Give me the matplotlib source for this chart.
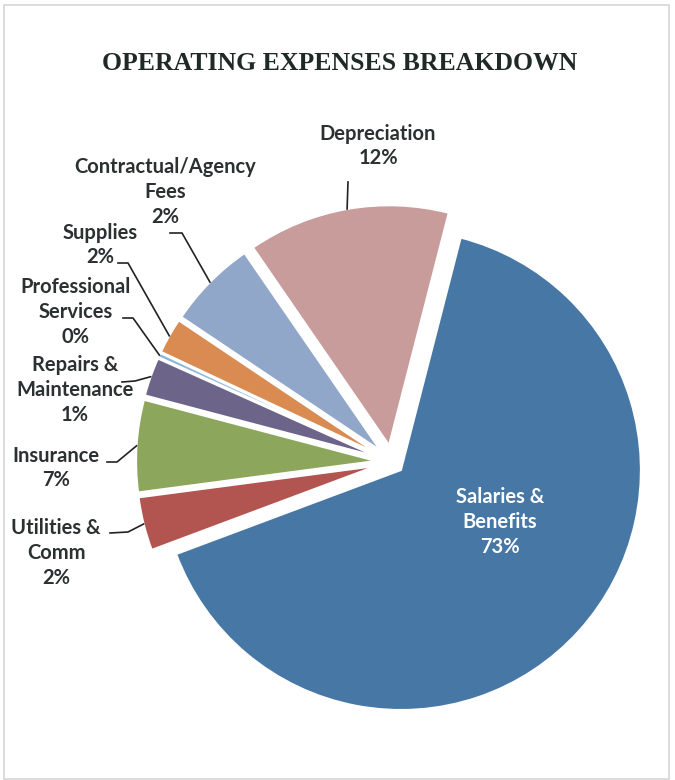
import numpy as np
import matplotlib.pyplot as plt
from matplotlib.patches import Rectangle

W, H = 675, 780

# datos (tamaño visual de cada sector, en %)
categorias = ['Salaries &\nBenefits', 'Depreciation', 'Contractual/Agency\nFees', 'Supplies',
              'Professional\nServices', 'Repairs &\nMaintenance', 'Insurance', 'Utilities &\nComm']
valores = [65.3, 13.6, 6.0, 2.4, 0.3, 2.6, 6.2, 3.6]
etiquetas_pct = ['73%', '12%', '2%', '2%', '0%', '1%', '7%', '2%']

colores = ['#4777a5', '#c99c9c', '#91a7c9', '#d98b52', '#8fb6da', '#6c6589', '#8ca65c', '#b2544f']
# separacion de cada sector (en pixeles, pie usa unidades de datos)
explode = [12, 17, 16, 16, 16, 16, 16, 16]

# posiciones del texto (coordenadas de imagen, y hacia abajo)
pos_texto = [(500, 522), (378, 146), (165, 192), (100, 245), (76, 312), (75, 390), (56, 468), (56, 553)]
# tramo inicial de cada linea guia (inicio, codo)
guias = [None, [(348, 182), (348, 182)], [(170, 233), (182, 233)], [(118, 263), (128, 263)],
         [(123, 318), (133, 318)], [(122, 382), (135, 381)], [(107, 462), (117, 462)],
         [(110, 533), (128, 532)]]

def yy(y):
    return H - y

fig = plt.figure(figsize=(W / 100, H / 100), dpi=100)
ax = fig.add_axes([0, 0, 1, 1])

wedges, _ = ax.pie(valores, colors=colores, explode=explode, startangle=200.5,
                   counterclock=True, radius=240, center=(392, yy(462)),
                   wedgeprops=dict(edgecolor='white', linewidth=1.5))

ax.set_xlim(0, W)
ax.set_ylim(0, H)
ax.set_aspect('equal')
ax.axis('off')

# borde del escaneo
ax.add_patch(Rectangle((4, yy(779)), 665, 774, fill=False, edgecolor='#d6d6d6', lw=1.2))

ax.text(340, yy(63), 'OPERATING EXPENSES BREAKDOWN', ha='center', va='center',
        family='Liberation Serif', weight='bold', fontsize=18.5, color='#1f2a26')

for i, w in enumerate(wedges):
    x, y = pos_texto[i]
    txt = categorias[i] + '\n' + etiquetas_pct[i]
    col = 'white' if i == 0 else '#2b3030'
    ax.text(x, yy(y), txt, ha='center', va='center', family='Lato', weight='bold',
            fontsize=14.5, color=col, linespacing=1.3)
    if guias[i] is not None:
        ang = np.deg2rad((w.theta1 + w.theta2) / 2)
        cx, cy = w.center
        px, py = cx + w.r * np.cos(ang), cy + w.r * np.sin(ang)
        (x0, y0), (x1, y1) = guias[i]
        ax.plot([x0, x1, px], [yy(y0), yy(y1), py], color='#222222', lw=1.2)

plt.savefig('out.png', dpi=100, facecolor='white')
